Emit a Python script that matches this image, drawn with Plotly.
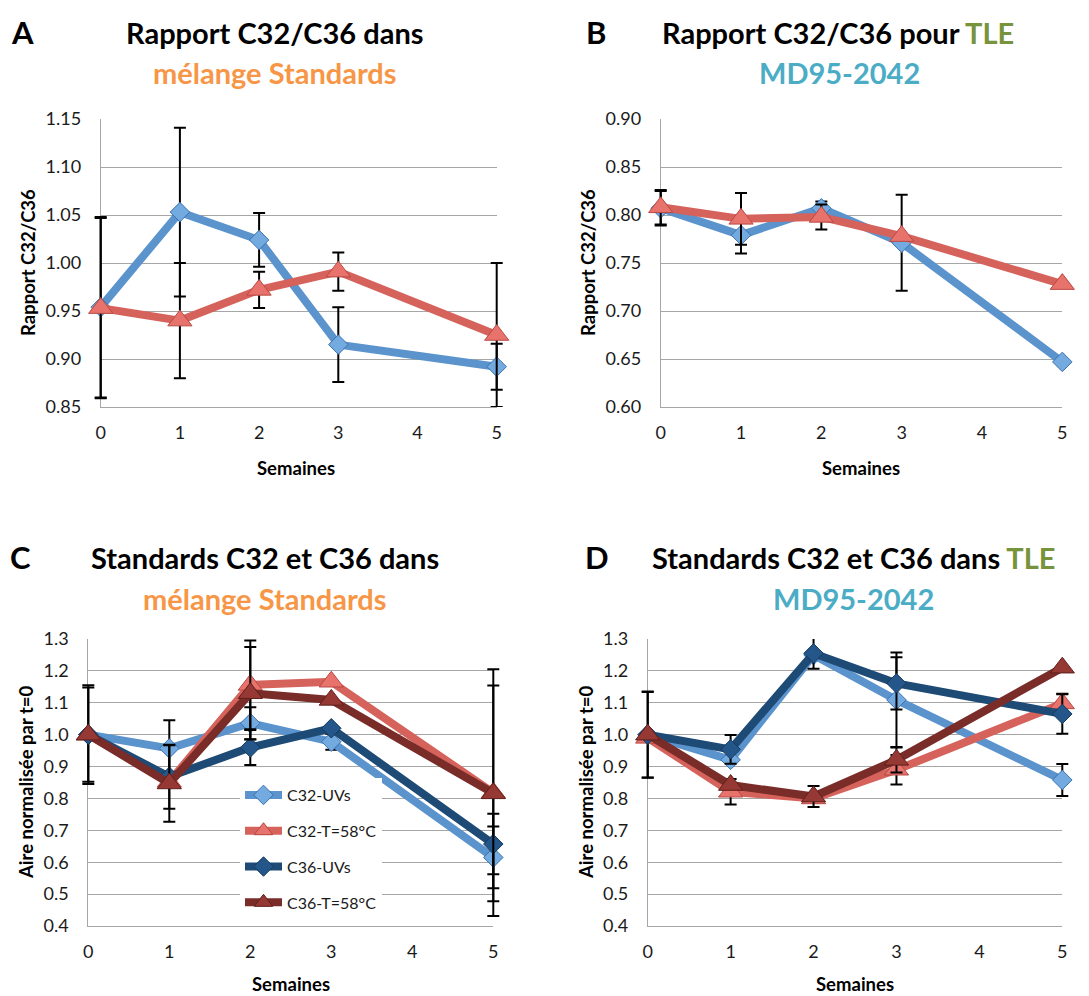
import plotly.graph_objects as go

# ---- data -------------------------------------------------------------
weeks = [0, 1, 2, 3, 5]

# A: C32/C36 ratio, standards mixture
ratio_std_uv = [0.954, 1.053, 1.024, 0.915, 0.892]
ratio_std_uv_err = [0.094, 0.088, 0.028, 0.039, 0.024]
ratio_std_heat = [0.953, 0.940, 0.972, 0.991, 0.925]
ratio_std_heat_err = [0.094, 0.060, 0.019, 0.020, 0.075]

# B: C32/C36 ratio, TLE MD95-2042
ratio_tle_uv = [0.807, 0.779, 0.807, 0.771, 0.647]
ratio_tle_uv_err = [0.018, 0.019, 0.007, 0.050, None]
ratio_tle_heat = [0.808, 0.796, 0.798, 0.778, 0.728]
ratio_tle_heat_err = [0.018, 0.027, 0.013, None, None]

# C: normalised areas, standards mixture
c32_uv_std = [1.0, 0.957, 1.036, 0.978, 0.615]
c32_uv_std_err = [0.155, 0.088, 0.050, 0.025, 0.097]
c32_heat_std = [1.0, 0.852, 1.156, 1.166, 0.818]
c32_heat_std_err = [None, None, 0.139, None, 0.387]
c36_uv_std = [1.0, 0.868, 0.960, 1.020, 0.657]
c36_uv_std_err = [0.148, 0.100, 0.055, None, 0.095]
c36_heat_std = [1.0, 0.847, 1.130, 1.109, 0.816]
c36_heat_std_err = [None, 0.120, 0.145, None, 0.338]

# D: normalised areas, TLE MD95-2042
c32_uv_tle = [1.0, 0.921, 1.250, 1.109, 0.858]
c32_uv_tle_err = [0.135, None, None, 0.149, 0.050]
c32_heat_tle = [0.99, 0.821, 0.800, 0.890, 1.098]
c32_heat_tle_err = [None, 0.040, None, 0.046, 0.030]
c36_uv_tle = [1.0, 0.954, 1.255, 1.161, 1.065]
c36_uv_tle_err = [0.134, 0.045, 0.048, 0.082, 0.062]
c36_heat_tle = [1.0, 0.842, 0.806, 0.921, 1.210]
c36_heat_tle_err = [None, None, 0.033, 0.040, None]

series_names = ["C32-UVs", "C32-T=58°C", "C36-UVs", "C36-T=58°C"]
x_ticks = [0, 1, 2, 3, 4, 5]
X_MIN, X_MAX = 0, 5

# ---- styling ----------------------------------------------------------
FONT = "Lato"
W, H = 1089, 996

STYLE = {
    "C32-UVs":    dict(line="#5B93CC", fill="#73AAE0", edge="#3C72AE", symbol="diamond", size=15),
    "C32-T=58°C": dict(line="#D6625C", fill="#E8736C", edge="#B84843", symbol="triangle-up", size=21),
    "C36-UVs":    dict(line="#1E4A76", fill="#245689", edge="#163A5E", symbol="diamond", size=15),
    "C36-T=58°C": dict(line="#7A2C29", fill="#963833", edge="#5E201D", symbol="triangle-up", size=21),
}

# plot-area boxes in pixels: (left, right, top, bottom)
boxes = {
    1: (100.7, 496.7, 119, 407),
    2: (660.7, 1062.3, 119, 407),
    3: (88.3, 493.3, 639, 926),
    4: (647.7, 1062.3, 639, 926),
}
# data layers sit on wider, invisible axes (same scale) so that error-bar
# caps at the first and last week are not cut by the plot-area clip
PAD = 16


def ax_name(kind, n):
    return kind if n == 1 else f"{kind}{n}"


def dom_x(left, right):
    return [left / W, right / W]


def dom_y(b):
    return [1 - b[3] / H, 1 - b[2] / H]


fig = go.Figure()

# empty traces so that each framed subplot (grid, ticks, labels) is created
for p in boxes:
    fig.add_trace(go.Scatter(x=[], y=[], xaxis=ax_name("x", p), yaxis=ax_name("y", p),
                             showlegend=False, hoverinfo="skip"))


def add_series(panel, y, err, name, legend=False):
    st = STYLE[name]
    n = panel + 4
    xa, ya = f"x{n}", f"y{n}"
    # error bars first so that the lines sit on top of them
    fig.add_trace(go.Scatter(
        x=weeks, y=y, xaxis=xa, yaxis=ya, mode="markers",
        marker=dict(size=1, opacity=0), showlegend=False, hoverinfo="skip",
        error_y=dict(type="data", array=err, visible=True, color="black",
                     thickness=2, width=6),
    ))
    fig.add_trace(go.Scatter(
        x=weeks, y=y, xaxis=xa, yaxis=ya, mode="lines+markers", name=name,
        line=dict(color=st["line"], width=8),
        marker=dict(symbol=st["symbol"], size=st["size"], color=st["fill"],
                    line=dict(color=st["edge"], width=1)),
        cliponaxis=False, showlegend=legend, legendgroup=name,
    ))


add_series(1, ratio_std_uv, ratio_std_uv_err, "C32-UVs")
add_series(1, ratio_std_heat, ratio_std_heat_err, "C32-T=58°C")

add_series(2, ratio_tle_uv, ratio_tle_uv_err, "C32-UVs")
add_series(2, ratio_tle_heat, ratio_tle_heat_err, "C32-T=58°C")

add_series(3, c32_uv_std, c32_uv_std_err, "C32-UVs", True)
add_series(3, c32_heat_std, c32_heat_std_err, "C32-T=58°C", True)
add_series(3, c36_uv_std, c36_uv_std_err, "C36-UVs", True)
add_series(3, c36_heat_std, c36_heat_std_err, "C36-T=58°C", True)

add_series(4, c32_uv_tle, c32_uv_tle_err, "C32-UVs")
add_series(4, c32_heat_tle, c32_heat_tle_err, "C32-T=58°C")
add_series(4, c36_uv_tle, c36_uv_tle_err, "C36-UVs")
add_series(4, c36_heat_tle, c36_heat_tle_err, "C36-T=58°C")

tickfont = dict(family=FONT, size=18, color="#1A1A1A")
grid = "#A6A6A6"

y_specs = {
    1: (0.85, 1.15, 0.05, ".2f"),
    2: (0.60, 0.90, 0.05, ".2f"),
    3: (0.4, 1.3, 0.1, ".1f"),
    4: (0.4, 1.3, 0.1, ".1f"),
}

axes = {}
for p, b in boxes.items():
    lo, hi, dt, fmt = y_specs[p]
    eps = (hi - lo) * 1e-6
    yr = [lo - eps, hi + eps]
    # visible frame: ticks, labels and grid
    axes[ax_name("xaxis", p)] = dict(
        domain=dom_x(b[0], b[1]), anchor=ax_name("y", p), range=[X_MIN, X_MAX],
        tickvals=x_ticks, showgrid=False, zeroline=False, showline=True,
        linecolor=grid, linewidth=1, ticks="", tickfont=tickfont,
        ticklabelstandoff=9, fixedrange=True, automargin=False)
    axes[ax_name("yaxis", p)] = dict(
        domain=dom_y(b), anchor=ax_name("x", p), range=yr, tick0=lo, dtick=dt,
        tickformat=fmt, showgrid=True, gridcolor=grid, gridwidth=1,
        zeroline=False, showline=True, linecolor=grid, linewidth=1, ticks="",
        tickfont=tickfont, ticklabelstandoff=15, fixedrange=True,
        automargin=False)
    # data layer: same scale, slightly wider box
    per_unit = (b[1] - b[0]) / (X_MAX - X_MIN)
    ext = PAD / per_unit
    n = p + 4
    axes[f"xaxis{n}"] = dict(
        domain=dom_x(b[0] - PAD, b[1] + PAD), anchor=f"y{n}",
        range=[X_MIN - ext, X_MAX + ext], visible=False, showgrid=False,
        zeroline=False, fixedrange=True, automargin=False)
    axes[f"yaxis{n}"] = dict(
        domain=dom_y(b), anchor=f"x{n}", range=yr, visible=False,
        showgrid=False, zeroline=False, fixedrange=True, automargin=False)

fig.update_layout(
    width=W, height=H, margin=dict(l=0, r=0, t=0, b=0, autoexpand=False),
    paper_bgcolor="white", plot_bgcolor="rgba(0,0,0,0)",
    font=dict(family=FONT, color="#1A1A1A"),
    legend=dict(x=240 / W, y=1 - 778 / H, xanchor="left", yanchor="top",
                bgcolor="white", borderwidth=0, itemwidth=37,
                font=dict(family=FONT, size=16, color="#1A1A1A"),
                tracegroupgap=12),
    showlegend=True,
    **axes,
)

ORANGE = "#F79646"
GREEN = "#77933C"
TEAL = "#4BACC6"


def label(text, px, py, size, color="black", angle=0):
    fig.add_annotation(text=text, x=px / W, y=1 - py / H, xref="paper", yref="paper",
                       showarrow=False, xanchor="center", yanchor="middle",
                       textangle=angle, font=dict(family=FONT, size=size, color=color))


# panel letters
label("<b>A</b>", 22, 32, 31)
label("<b>B</b>", 596, 32, 31)
label("<b>C</b>", 20, 557, 31)
label("<b>D</b>", 597, 557, 31)

# titles
label("<b>Rapport C32/C36 dans</b>", 275, 33, 29)
label("<b>mélange Standards</b>", 275, 72, 29, ORANGE)
label(f"<b>Rapport C32/C36 pour <span style='color:{GREEN}'>TLE</span></b>", 838, 33, 29)
label("<b>MD95-2042</b>", 839, 72, 29, TEAL)
label("<b>Standards C32 et C36 dans</b>", 265, 557, 29)
label("<b>mélange Standards</b>", 265, 598, 29, ORANGE)
label(f"<b>Standards C32 et C36 dans <span style='color:{GREEN}'>TLE</span></b>", 853, 557, 29)
label("<b>MD95-2042</b>", 853, 598, 29, TEAL)

# axis titles
label("<b>Semaines</b>", 296, 468, 18.5)
label("<b>Semaines</b>", 861, 468, 18.5)
label("<b>Semaines</b>", 291, 984, 18.5)
label("<b>Semaines</b>", 855, 984, 18.5)
label("<b>Rapport C32/C36</b>", 28, 263, 18.5, angle=-90)
label("<b>Rapport C32/C36</b>", 588, 263, 18.5, angle=-90)
label("<b>Aire normalisée par t=0</b>", 26, 782, 18.5, angle=-90)
label("<b>Aire normalisée par t=0</b>", 586, 782, 18.5, angle=-90)

fig.write_html("out.html")
